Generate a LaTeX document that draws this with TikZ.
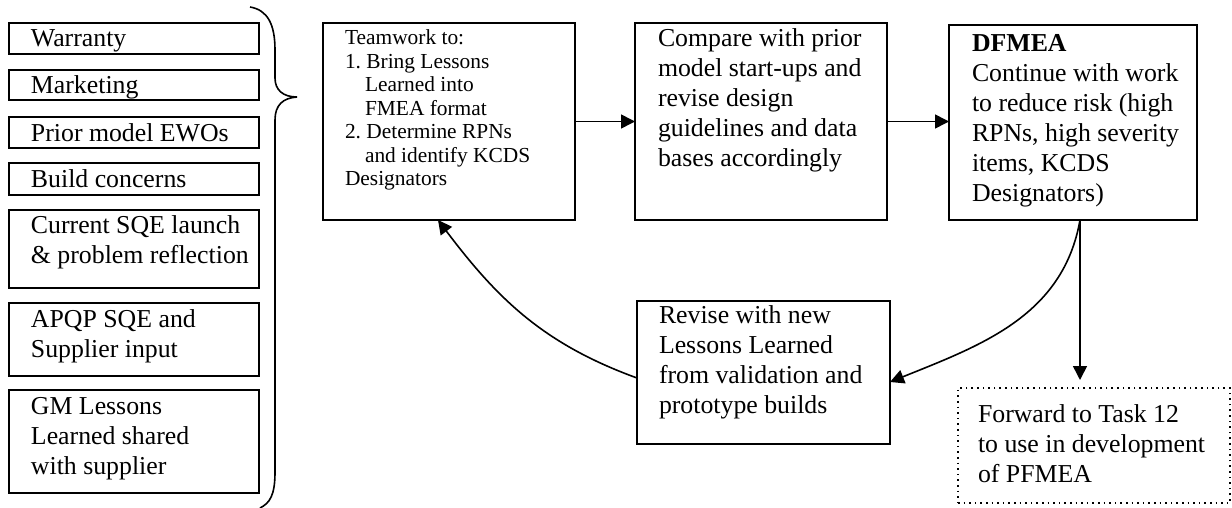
\documentclass[tikz,border=0pt]{standalone}
\usepackage{fontspec}
\setmainfont{Liberation Serif}
\usetikzlibrary{arrows.meta}
\frenchspacing
\pgfdeclarelayer{edgelayer}
\pgfdeclarelayer{nodelayer}
\pgfsetlayers{edgelayer,nodelayer,main}
\tikzstyle{none}=[inner sep=0pt]
\tikzstyle{box}=[draw=black,fill=white,line width=1.2pt,inner sep=0pt,outer sep=0pt,anchor=north west]
\tikzstyle{dotbox}=[draw=black,fill=white,line width=0.8pt,dotted,inner sep=0pt,outer sep=0pt,anchor=north west]
\tikzstyle{simple}=[-,draw=black,line width=0.8pt]
\tikzstyle{arrow}=[-{Triangle[length=7pt,width=7pt]},draw=black,line width=0.8pt]
\newcommand{\boxfont}{\fontsize{12.9}{15}\selectfont}
\newcommand{\notefont}{\fontsize{10.7}{11.75}\selectfont}
\newcommand{\boxtext}[5]{\parbox[t][#2][t]{#1}{\parindent=0pt\leftskip=#3\relax\rule{0pt}{#4}\ignorespaces#5}}

\begin{document}
\begin{tikzpicture}[x=0.5pt,y=0.5pt]
	\useasboundingbox (0,0) rectangle (1232,-508);
	\begin{pgfonlayer}{nodelayer}
		\node [style=box] (0) at (9, -23) {\boxfont\boxtext{125pt}{15.5pt}{11pt}{12pt}{Warranty}};
		\node [style=box] (1) at (9, -70) {\boxfont\boxtext{125pt}{15pt}{11pt}{12pt}{Marketing}};
		\node [style=box] (2) at (9, -117) {\boxfont\boxtext{125pt}{15.5pt}{11pt}{12pt}{Prior model EWOs}};
		\node [style=box] (3) at (9, -163) {\boxfont\boxtext{125pt}{16pt}{11pt}{12pt}{Build concerns}};
		\node [style=box] (4) at (9, -210) {\boxfont\boxtext{125pt}{39pt}{11pt}{12pt}{Current SQE launch\\\& problem reflection}};
		\node [style=box] (5) at (9, -303) {\boxfont\boxtext{125pt}{36.5pt}{11pt}{12pt}{APQP SQE and\\Supplier input}};
		\node [style=box] (6) at (9, -390) {\boxfont\boxtext{125pt}{51.5pt}{11pt}{12pt}{GM Lessons\\Learned shared\\with supplier}};
		\node [style=box] (7) at (323, -23) {\notefont\boxtext{126pt}{98.5pt}{11pt}{11pt}{Teamwork to:\\1. Bring Lessons\\\hspace*{10pt}Learned into\\\hspace*{10pt}FMEA format\\2. Determine RPNs\\\hspace*{10pt}and identify KCDS\\Designators}};
		\node [style=box] (8) at (635, -23) {\boxfont\boxtext{126pt}{98.5pt}{11.5pt}{12pt}{Compare with prior\\model start-ups and\\revise design\\guidelines and data\\bases accordingly}};
		\node [style=box] (9) at (949, -25) {\boxfont\boxtext{124pt}{97.5pt}{11.5pt}{13.5pt}{\textbf{DFMEA}\\Continue with work\\to reduce risk (high\\RPNs, high severity\\items, KCDS\\Designators)}};
		\node [style=box] (10) at (637, -301) {\boxfont\boxtext{126.5pt}{71.5pt}{11pt}{11pt}{Revise with new\\Lessons Learned\\from validation and\\prototype builds}};
		\node [style=dotbox] (11) at (958, -388) {\boxfont\boxtext{136pt}{57.5pt}{10pt}{17pt}{Forward to Task 12\\to use in development\\of PFMEA}};
		\coordinate (12) at (1080, -380);
	\end{pgfonlayer}
	\begin{pgfonlayer}{edgelayer}
		\draw [style=simple] (250, -7) .. controls (268, -10) and (275, -25) .. (275, -50) -- (275, -78) .. controls (275, -90) and (283, -97) .. (297, -97) .. controls (283, -98) and (275, -105) .. (275, -120) -- (275, -472) .. controls (275, -495) and (270, -503) .. (260, -508);
		\draw [style=arrow] (7.east) to (7.east -| 8.west);
		\draw [style=arrow] (8.east) to (8.east -| 9.west);
		\draw [style=arrow] (9.south -| 12) to (12);
		\draw [style=arrow, out=-100, in=22] (9.south -| 12) to ([yshift=-4.75pt]10.east);
		\draw [style=arrow, out=160, in=-53] ([yshift=-2.75pt]10.west) to ([xshift=-5.5pt]7.south);
	\end{pgfonlayer}
\end{tikzpicture}
\end{document}
